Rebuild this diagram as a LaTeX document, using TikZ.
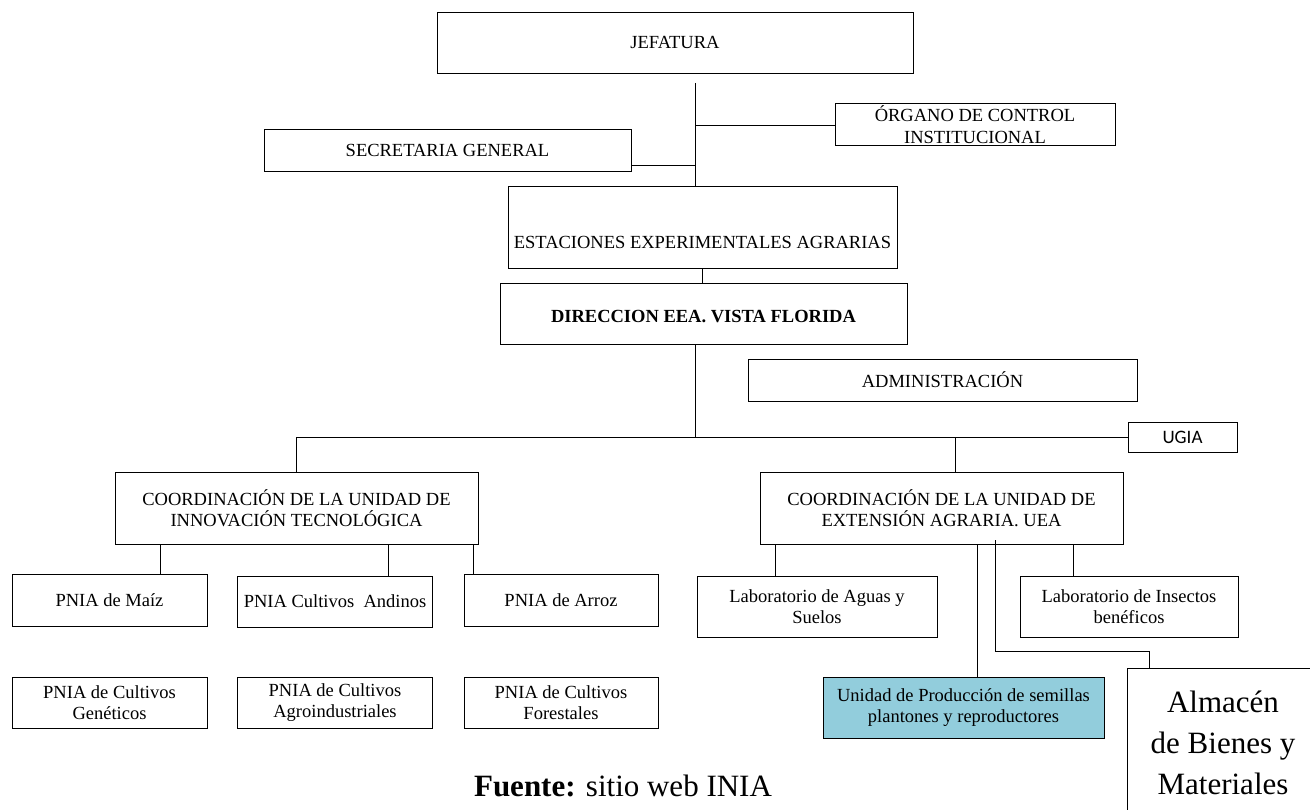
\documentclass[tikz,border=0pt]{standalone}
\usepackage{fontspec}
\setmainfont{Liberation Serif}
\newfontfamily\ugiafont{Carlito}
\definecolor{celeste}{RGB}{146,205,220}

\begin{document}
\begin{tikzpicture}[x=1pt, y=-1pt, line width=0.9pt,
    caja/.style={draw, align=center, inner sep=2pt, font=\fontsize{18.5}{21.5}\selectfont},
    enlace/.style={line width=0.8pt}]

    \useasboundingbox (0,0) rectangle (1310,810);
    \clip (0,0) rectangle (1310,810);

    % Alta dirección
    \node[caja, minimum width=476, minimum height=61] (jefatura) at (675,42.5) {JEFATURA};
    \node[caja, minimum width=280, minimum height=41] (organo) at (975,124.5) {ÓRGANO DE CONTROL\\INSTITUCIONAL};
    \node[caja, minimum width=367, minimum height=42] (secretaria) at (447.5,150) {SECRETARIA GENERAL};
    \node[caja, minimum width=389, minimum height=82, text height=48pt, text depth=4pt] (estaciones) at (702.5,227) {ESTACIONES EXPERIMENTALES AGRARIAS};
    \node[caja, minimum width=407, minimum height=61, text height=22pt, text depth=4pt,
          font=\fontsize{18.5}{21.5}\selectfont\bfseries] (direccion) at (703.5,313.5) {DIRECCION EEA. VISTA FLORIDA};
    \node[caja, minimum width=389, minimum height=42] (admin) at (942.5,380) {ADMINISTRACIÓN};
    \node[caja, minimum width=109, minimum height=30, font=\ugiafont\fontsize{19}{21}\selectfont] (ugia) at (1182.5,437) {UGIA};

    % Coordinaciones
    \node[caja, minimum width=363, minimum height=72] (coordit) at (296.5,508) {COORDINACIÓN DE LA UNIDAD DE\\INNOVACIÓN TECNOLÓGICA};
    \node[caja, minimum width=363, minimum height=72] (coordea) at (941.5,508) {COORDINACIÓN DE LA UNIDAD DE\\EXTENSIÓN AGRARIA. UEA};

    % Programas PNIA
    \node[caja, minimum width=195, minimum height=52] (maiz) at (109.5,600) {PNIA de Maíz};
    \node[caja, minimum width=195, minimum height=51] (andinos) at (335,601.5) {PNIA Cultivos\ \ Andinos};
    \node[caja, minimum width=194, minimum height=52] (arroz) at (561,600) {PNIA de Arroz};
    \node[caja, minimum width=195, minimum height=51] (geneticos) at (109.5,702.5) {PNIA de Cultivos\\Genéticos};
    \node[caja, minimum width=195, minimum height=51] (agro) at (335,702.5) {PNIA de Cultivos\\Agroindustriales};
    \node[caja, minimum width=194, minimum height=51] (forestales) at (561,702.5) {PNIA de Cultivos\\Forestales};

    % Unidades de extensión
    \node[caja, minimum width=240, minimum height=61] (aguas) at (817,606.5) {Laboratorio de Aguas y\\Suelos};
    \node[caja, minimum width=218, minimum height=61] (insectos) at (1129,606.5) {Laboratorio de Insectos\\benéficos};
    \node[caja, minimum width=281, minimum height=61, fill=celeste] (unidad) at (963.5,707.5) {Unidad de Producción de semillas\\plantones y reproductores};
    \node[caja, minimum width=192, minimum height=150, font=\fontsize{31}{41}\selectfont] (almacen) at (1223,743) {Almacén\\de Bienes y\\Materiales};

    % Fuente
    \node[font=\fontsize{31}{36}\selectfont] (fuente) at (623,786) {\textbf{Fuente:} sitio web INIA};

    % Líneas de mando
    \coordinate (tronco) at (695,83);
    \coordinate (hub) at (695,437);
    \coordinate (rama) at (955,437);
    \coordinate (codo) at (995,651);
    \draw[enlace] (tronco) -- (tronco |- estaciones.north);
    \draw[enlace] (695,125) -- (organo.west |- 0,125);
    \draw[enlace] (secretaria.east |- 0,165) -- (695,165);
    \draw[enlace] (estaciones.south) -- (estaciones.south |- direccion.north);
    \draw[enlace] (hub |- direccion.south) -- (hub);
    \draw[enlace] (coordit.north |- hub) -- (ugia.west);
    \draw[enlace] (coordit.north |- hub) -- (coordit.north);
    \draw[enlace] (rama) -- (rama |- coordea.north);

    % Dependencias de cada coordinación
    \foreach \x/\n in {160/maiz, 388/andinos, 473/arroz}
        \draw[enlace] (\x,0 |- coordit.south) -- (\x,0 |- \n.north);
    \foreach \x/\n in {775/aguas, 1073/insectos, 977/unidad}
        \draw[enlace] (\x,0 |- coordea.south) -- (\x,0 |- \n.north);
    \draw[enlace] (995,540) -- (codo) -- (1149,651) -- (1149,0 |- almacen.north);
\end{tikzpicture}
\end{document}
